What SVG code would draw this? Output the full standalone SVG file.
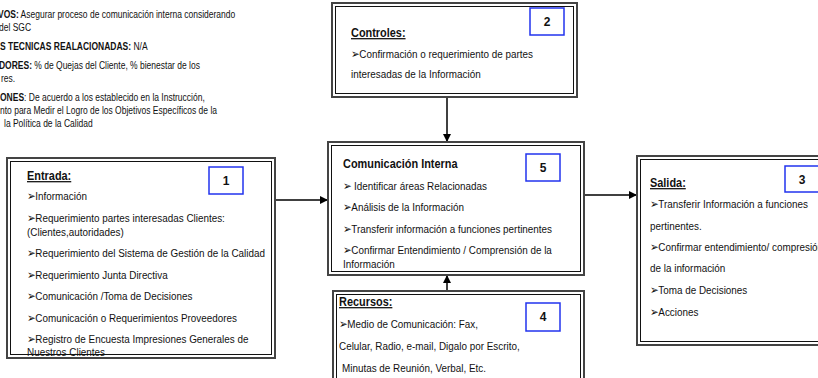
<svg xmlns="http://www.w3.org/2000/svg" width="818" height="378" viewBox="0 0 818 378">
<defs>
<marker id="ah" viewBox="0 0 10 10" refX="10" refY="5" markerWidth="8" markerHeight="8" orient="auto" markerUnits="userSpaceOnUse"><path d="M0,0 L10,5 L0,10 z" fill="#000"/></marker>
</defs>
<style>
.t{font-family:"Liberation Sans",Arial,sans-serif;font-size:11.5px;fill:#111}
.h{font-size:12.7px;font-weight:bold;text-decoration:underline}
.s{font-size:10px}
.b{font-weight:bold}
.o{fill:#fff;stroke:#444;stroke-width:2}
.i{fill:none;stroke:#111;stroke-width:1}
.n{fill:#fff;stroke:#2233ee;stroke-width:1.5}
.num{font-family:"Liberation Sans",Arial,sans-serif;font-size:12px;font-weight:bold;text-anchor:middle;fill:#111}
.c{stroke:#000;stroke-width:1.5;fill:none}
</style>
<rect width="818" height="378" fill="#fff"/>
<g id="notes" class="t s" transform="scale(0.85 1)">
<text x="-2.4" y="18"><tspan class="b">VOS:</tspan> Asegurar proceso de comunicación interna considerando</text>
<text x="-1.2" y="31">del SGC</text>
<text x="0" y="50"><tspan class="b">S TECNICAS REALACIONADAS:</tspan> N/A</text>
<text x="-1.2" y="69"><tspan class="b">DORES:</tspan> % de Quejas del Cliente, % bienestar de los</text>
<text x="1.2" y="82">res.</text>
<text x="0" y="101"><tspan class="b">ONES</tspan>: De acuerdo a los establecido en la Instrucción,</text>
<text x="0" y="114">nto para Medir el Logro de los Objetivos Específicos  de la</text>
<text x="4.7" y="127">la Política de la Calidad</text>
</g>
<g id="connectors">
<line class="c" x1="275" y1="200" x2="328" y2="200" marker-end="url(#ah)"/>
<line class="c" x1="447" y1="97" x2="447" y2="142" marker-end="url(#ah)"/>
<line class="c" x1="584" y1="195" x2="637" y2="195" marker-end="url(#ah)"/>
<line class="c" x1="447" y1="291" x2="447" y2="275" marker-end="url(#ah)"/>
</g>
<g id="entrada">
<rect class="o" x="7" y="158" width="268" height="200"/>
<rect class="i" x="10.5" y="161.5" width="261" height="193"/>
<rect class="n" x="209" y="167" width="34" height="27"/>
<text class="num" x="226" y="185">1</text>
<g class="t" transform="translate(27 0) scale(0.86 1)">
<text class="h" x="0" y="180">Entrada:</text>
<text x="0" y="200">➢Información</text>
<text x="0" y="222">➢Requerimiento partes interesadas Clientes:</text>
<text x="0" y="236">(Clientes,autoridades)</text>
<text x="0" y="257">➢Requerimiento del Sistema de Gestión de la Calidad</text>
<text x="0" y="279">➢Requerimiento Junta Directiva</text>
<text x="0" y="300">➢Comunicación /Toma de Decisiones</text>
<text x="0" y="322">➢Comunicación o Requerimientos Proveedores</text>
<text x="0" y="343">➢Registro de Encuesta Impresiones Generales de</text>
<text x="0" y="356">Nuestros Clientes</text>
</g>
</g>
<g id="controles">
<rect class="o" x="332" y="3" width="245" height="94"/>
<rect class="i" x="335.5" y="6.5" width="238" height="87"/>
<rect class="n" x="530" y="8" width="34" height="27"/>
<text class="num" x="547" y="26">2</text>
<g class="t" transform="translate(351 0) scale(0.86 1)">
<text class="h" x="0" y="37">Controles:</text>
<text x="0" y="58">➢Confirmación o requerimiento  de partes</text>
<text x="0" y="78">interesadas de la Información</text>
</g>
</g>
<g id="comunicacion">
<rect class="o" x="328" y="142" width="256" height="133"/>
<rect class="i" x="331.5" y="145.5" width="249" height="126"/>
<rect class="n" x="526" y="154" width="34" height="27"/>
<text class="num" x="543" y="172">5</text>
<g class="t" transform="translate(343 0) scale(0.86 1)">
<text class="b" x="0" y="168" style="font-size:12.7px">Comunicación Interna</text>
<text x="0" y="190">➢ Identificar  áreas Relacionadas</text>
<text x="0" y="211">➢Análisis de la Información</text>
<text x="0" y="233">➢Transferir información  a funciones pertinentes</text>
<text x="0" y="254">➢Confirmar Entendimiento / Comprensión de la</text>
<text x="0" y="268">Información</text>
</g>
</g>
<g id="recursos">
<rect class="o" x="333" y="291" width="251" height="100"/>
<rect class="i" x="336.5" y="294.5" width="244" height="93"/>
<rect class="n" x="526" y="303" width="34" height="28"/>
<text class="num" x="543" y="321">4</text>
<g class="t" transform="translate(339 0) scale(0.86 1)">
<text class="h" x="0" y="306">Recursos:</text>
<text x="0" y="328">➢Medio de Comunicación: Fax,</text>
<text x="0" y="350">Celular, Radio, e-mail, Digalo por Escrito,</text>
<text x="3.5" y="372">Minutas de Reunión, Verbal, Etc.</text>
</g>
</g>
<g id="salida">
<rect class="o" x="637" y="156" width="200" height="189"/>
<rect class="i" x="640.5" y="159.5" width="193" height="182"/>
<rect class="n" x="785" y="166" width="34" height="26"/>
<text class="num" x="802" y="184">3</text>
<g class="t" transform="translate(650 0) scale(0.86 1)">
<text class="h" x="0" y="187">Salida:</text>
<text x="0" y="208">➢Transferir Información a funciones</text>
<text x="0" y="230">pertinentes.</text>
<text x="0" y="251">➢Confirmar entendimiento/ compresión</text>
<text x="0" y="272">de la información</text>
<text x="0" y="294">➢Toma de Decisiones</text>
<text x="0" y="316">➢Acciones</text>
</g>
</g>
</svg>
